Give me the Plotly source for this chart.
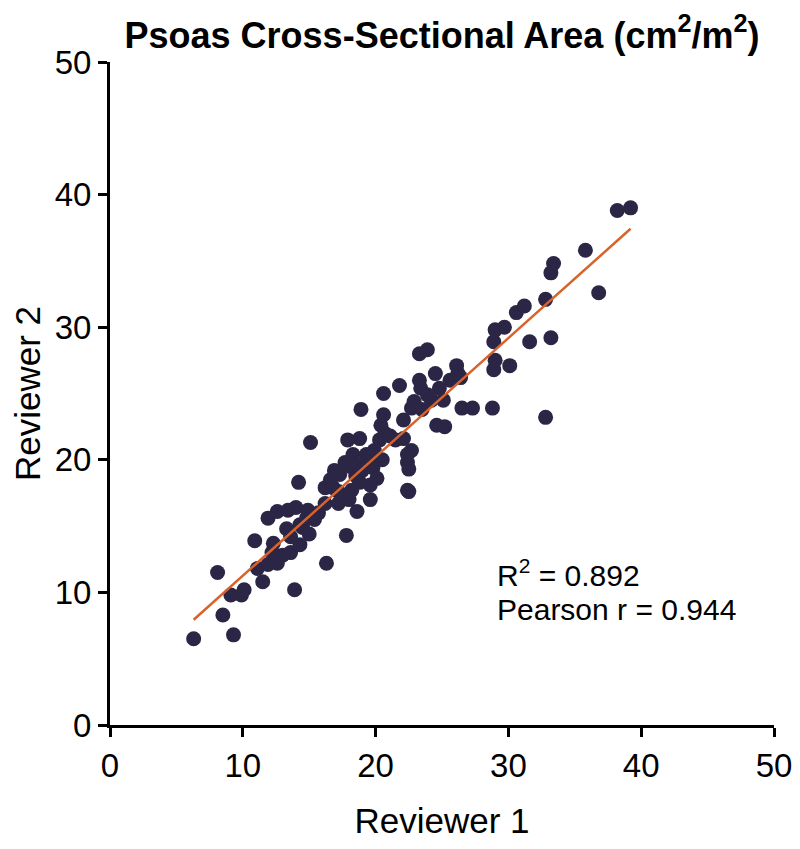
import numpy as np
import plotly.graph_objects as go

reviewer1 = [6.3, 9.3, 8.5, 8.1, 9.1, 9.9, 10.1, 11.5, 13.9, 16.3, 11.1, 10.9, 12.3, 11.9, 12.6,
             13.0, 12.2, 13.6, 14.3, 13.6, 14.5, 14.3, 15.0, 14.8, 11.9, 12.6, 13.4, 14.0, 14.2,
             15.1, 14.9, 15.7, 16.2, 16.2, 16.8, 17.2, 17.8, 17.2, 17.3, 18.1, 17.7, 18.6, 18.8,
             18.5, 18.3, 18.8, 17.9, 18.9, 19.6, 19.8, 19.9, 19.9, 19.3, 19.3, 20.1, 20.5, 20.3,
             20.7, 20.4, 20.6, 20.6, 21.1, 21.5, 22.1, 22.4, 22.4, 22.5, 22.5, 22.7, 22.4, 22.1,
             21.8, 22.7, 22.9, 23.3, 23.3, 23.9, 23.4, 23.5, 23.9, 24.2, 24.6, 24.8, 24.5, 25.2,
             25.1, 25.6, 26.2, 26.1, 26.4, 26.5, 27.3, 28.8, 28.9, 29.0, 28.9, 29.0, 29.7, 30.1,
             30.6, 31.2, 31.6, 32.8, 32.8, 33.2, 33.2, 33.4, 35.8, 36.8, 38.2, 39.2,
             18.7, 19.0, 19.6, 18.2, 18.0, 16.6, 16.9, 15.4, 13.3]
reviewer2 = [6.5, 6.8, 8.3, 11.5, 9.8, 9.8, 10.2, 10.8, 10.2, 12.2, 11.8, 13.9, 13.7, 12.1, 12.2,
             12.8, 13.0, 13.0, 13.6, 14.2, 14.9, 15.1, 14.4, 15.6, 15.6, 16.1, 16.2, 16.4, 18.3,
             21.3, 16.2, 16.0, 16.7, 17.9, 17.9, 17.6, 14.3, 16.7, 18.9, 19.5, 19.8, 16.1, 18.3,
             18.8, 20.4, 21.6, 21.5, 23.8, 17.0, 19.4, 20.2, 20.7, 20.4, 19.8, 18.6, 20.0, 21.5,
             22.0, 22.6, 23.4, 25.0, 21.8, 21.5, 21.6, 19.8, 17.7, 17.6, 19.3, 20.7, 20.4, 23.0,
             25.6, 23.9, 24.4, 26.0, 28.0, 28.3, 25.4, 23.8, 24.9, 24.5, 22.6, 25.4, 26.5, 22.5,
             24.5, 26.0, 26.5, 27.1, 26.2, 23.9, 23.9, 23.9, 26.8, 27.5, 28.9, 29.8, 30.0, 27.1,
             31.1, 31.6, 28.9, 32.1, 23.2, 29.2, 34.1, 34.8, 35.8, 32.6, 38.8, 39.0,
             19.6, 19.2, 18.1, 17.7, 17.0, 18.5, 19.2, 15.5, 14.8]
x_ticks = [0, 10, 20, 30, 40, 50]
y_ticks = [0, 10, 20, 30, 40, 50]
r_squared = "0.892"
pearson_r = "0.944"

x = np.array(reviewer1)
y = np.array(reviewer2)
slope, intercept = np.polyfit(x, y, 1)
fit_x = np.array([x.min(), x.max()])
fit_y = slope * fit_x + intercept

FONT = "Liberation Sans, Arial, sans-serif"

fig = go.Figure()
fig.add_trace(go.Scatter(x=x, y=y, mode="markers",
                         marker=dict(size=15, color="#2b2645", line=dict(width=0)),
                         showlegend=False, cliponaxis=False))
fig.add_trace(go.Scatter(x=fit_x, y=fit_y, mode="lines",
                         line=dict(color="#d9622b", width=2.5), showlegend=False))

axis_common = dict(range=[0, 50], showgrid=False, zeroline=False, automargin=False,
                   showline=True, linecolor="black", linewidth=3,
                   ticks="outside", ticklen=9, tickwidth=3, tickcolor="black",
                   tickfont=dict(family=FONT, size=33, color="black"))

fig.update_layout(
    width=800, height=849,
    margin=dict(l=102, r=34, t=54, b=132),
    plot_bgcolor="white", paper_bgcolor="white",
    title=dict(text="<b>Psoas Cross-Sectional Area (cm<sup>2</sup>/m<sup>2</sup>)</b>",
               x=0.5, xref="paper", xanchor="center",
               y=1 - 27 / 849, yref="container", yanchor="middle",
               font=dict(family=FONT, size=36, color="black")),
    xaxis=dict(**axis_common, tickvals=x_ticks,
               title=dict(text="Reviewer 1", font=dict(family=FONT, size=35, color="black"),
                          standoff=26)),
    yaxis=dict(**axis_common, tickvals=y_ticks,
               title=dict(text="Reviewer 2", font=dict(family=FONT, size=35, color="black"),
                          standoff=12)),
    annotations=[
        dict(x=29.0, y=11.5, xref="x", yref="y", xanchor="left", yanchor="middle",
             showarrow=False, text=f"R<sup>2</sup> = {r_squared}",
             font=dict(family=FONT, size=30, color="black")),
        dict(x=29.0, y=8.7, xref="x", yref="y", xanchor="left", yanchor="middle",
             showarrow=False, text=f"Pearson r = {pearson_r}",
             font=dict(family=FONT, size=30, color="black")),
    ],
)

fig.write_html("out.html")
